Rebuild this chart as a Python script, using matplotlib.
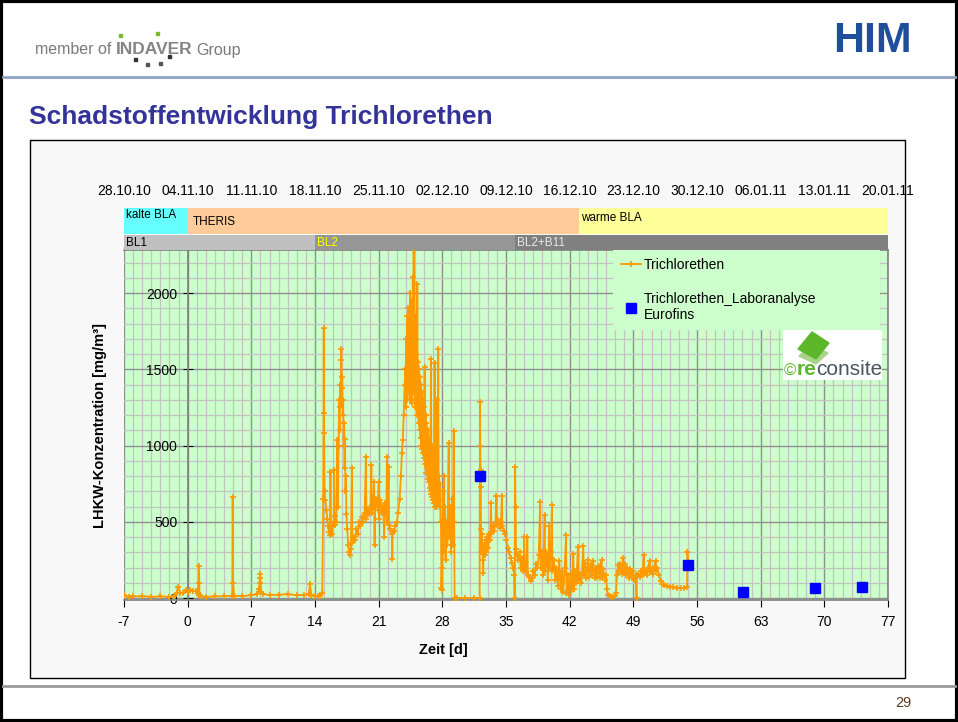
import matplotlib
matplotlib.use("Agg")
import matplotlib.pyplot as plt
from matplotlib.patches import Rectangle, Polygon
from matplotlib.lines import Line2D
from matplotlib.ticker import MultipleLocator
import numpy as np

plt.rcParams['font.family'] = ['Liberation Sans', 'DejaVu Sans']
plt.rcParams['axes.unicode_minus'] = False

# --- Werte (Tag, Konzentration mg/m3) ---
# Abschnitt vor THERIS / BL1
seg_bl1 = [(-7.0, 20), (-6.5, 8), (-6.0, 10), (-5.0, 12), (-4.0, 8), (-3.0, 10),
           (-2.0, 8), (-1.5, 12), (-1.2, 30), (-1.1, 74), (-0.8, 35), (-0.5, 30),
           (-0.2, 50), (0.0, 40), (0.3, 55), (0.6, 48), (0.9, 45), (1.1, 30),
           (1.2, 100), (1.25, 210), (1.3, 20), (1.5, 10), (2.0, 8), (3.0, 10),
           (4.0, 12), (4.9, 15), (4.95, 665), (5.0, 100), (5.1, 15), (6.0, 12),
           (7.0, 18), (7.6, 25), (7.8, 56), (7.9, 100), (7.95, 157), (8.0, 131),
           (8.1, 40), (8.3, 25), (9.0, 20), (10.0, 22), (11.0, 25), (12.0, 18),
           (12.8, 20), (13.3, 25), (13.45, 92), (13.6, 20), (14.0, 15), (14.3, 12)]

# BL2, erster Anstieg
seg_bl2 = [(14.5, 15), (14.8, 30), (14.9, 650), (14.96, 1770), (14.98, 1210),
           (15.0, 1080), (15.05, 700), (15.15, 640), (15.25, 580), (15.35, 520),
           (15.45, 470), (15.55, 430), (15.65, 415), (15.7, 828), (15.75, 440),
           (15.85, 420), (15.95, 470), (16.05, 500), (16.1, 840), (16.15, 480),
           (16.25, 540), (16.35, 500), (16.45, 1036), (16.5, 600), (16.6, 1000),
           (16.65, 1300), (16.7, 1100), (16.75, 1400), (16.8, 1250), (16.85, 1560),
           (16.9, 1630), (16.95, 1380), (17.0, 1450), (17.05, 1200), (17.1, 1300),
           (17.15, 1000), (17.2, 1150), (17.25, 850), (17.3, 1040), (17.35, 700),
           (17.4, 800), (17.45, 550), (17.55, 450), (17.65, 350), (17.75, 300),
           (17.85, 282), (17.95, 320), (18.05, 850), (18.1, 360), (18.25, 400),
           (18.4, 380), (18.55, 450), (18.7, 420), (18.85, 500), (19.0, 470),
           (19.15, 530), (19.3, 500), (19.45, 560), (19.6, 925), (19.65, 520),
           (19.8, 580), (19.95, 550), (20.1, 600), (20.2, 872), (20.25, 560),
           (20.4, 620), (20.5, 760), (20.55, 347), (20.6, 600), (20.75, 650),
           (20.9, 580), (21.0, 760), (21.05, 520), (21.2, 640), (21.35, 560),
           (21.5, 600), (21.6, 400), (21.7, 620), (21.85, 550), (21.9, 925),
           (21.95, 500), (22.1, 860), (22.15, 480), (22.3, 450), (22.45, 420),
           (22.5, 255), (22.55, 430), (22.7, 440), (22.85, 470), (23.0, 500),
           (23.15, 560), (23.3, 650), (23.45, 800), (23.55, 950), (23.65, 1036),
           (23.75, 1200), (23.85, 1400)]

# Hauptpeak
seg_peak = [(23.95, 1500), (24.0, 1250), (24.05, 1700), (24.1, 1300), (24.15, 1850),
            (24.2, 1350), (24.25, 1900), (24.3, 1400), (24.35, 1750), (24.4, 1300),
            (24.45, 2000), (24.5, 1350), (24.55, 1800), (24.6, 1300), (24.65, 1950),
            (24.7, 1280), (24.75, 2107), (24.8, 1350), (24.85, 2400), (24.9, 1400),
            (24.95, 1850), (25.0, 1250), (25.05, 1700), (25.1, 1300), (25.15, 1600),
            (25.2, 1200), (25.25, 2060), (25.3, 1250), (25.35, 1550), (25.4, 1150),
            (25.45, 1500), (25.5, 1100), (25.55, 1450), (25.6, 1050), (25.65, 1400),
            (25.7, 1000), (25.75, 1350), (25.8, 980), (25.85, 1300), (25.9, 950),
            (25.95, 1250), (26.0, 920), (26.05, 1514), (26.1, 880), (26.15, 1200),
            (26.2, 820), (26.25, 1150), (26.3, 850), (26.35, 1100), (26.4, 780),
            (26.45, 1100), (26.5, 760), (26.55, 1050), (26.6, 720), (26.65, 1000),
            (26.7, 700), (26.75, 1567), (26.8, 680), (26.85, 950), (26.9, 660),
            (26.95, 1000), (27.0, 640), (27.05, 920), (27.1, 620), (27.15, 1540),
            (27.2, 600), (27.25, 900), (27.3, 620), (27.35, 850), (27.4, 600),
            (27.45, 1300), (27.5, 620), (27.55, 1632), (27.6, 640), (27.65, 800),
            (27.7, 600), (27.75, 750), (27.8, 500), (27.85, 500), (27.9, 66),
            (27.95, 200), (28.0, 50), (28.05, 700), (28.1, 300), (28.2, 800),
            (28.25, 400), (28.3, 600), (28.35, 250), (28.45, 500), (28.55, 350),
            (28.7, 1016), (28.75, 400), (28.85, 600), (28.95, 300), (29.05, 650),
            (29.15, 350), (29.25, 1097), (29.3, 500), (29.35, 0), (29.6, 0),
            (30.5, 0), (31.5, 0), (32.1, 0)]

# BL2+B11
seg_b11 = [(32.14, 1287), (32.17, 1000), (32.2, 840), (32.22, 730), (32.25, 450),
           (32.3, 300), (32.35, 420), (32.45, 250), (32.5, 166), (32.55, 350),
           (32.65, 280), (32.75, 380), (32.85, 300), (32.95, 400), (33.05, 330),
           (33.15, 420), (33.25, 380), (33.35, 625), (33.4, 420), (33.55, 470),
           (33.7, 440), (33.85, 500), (33.95, 667), (34.0, 480), (34.15, 510),
           (34.3, 460), (34.45, 500), (34.55, 667), (34.6, 470), (34.75, 440),
           (34.9, 420), (35.05, 380), (35.2, 330), (35.35, 300), (35.5, 260),
           (35.65, 230), (35.8, 200), (35.9, 150), (35.95, 0), (36.0, 859),
           (36.05, 600), (36.1, 320), (36.2, 280), (36.35, 250), (36.5, 300),
           (36.6, 200), (36.75, 260), (36.9, 180), (37.0, 400), (37.05, 200),
           (37.2, 170), (37.35, 400), (37.4, 150), (37.55, 140), (37.7, 110),
           (37.85, 130), (38.0, 180), (38.15, 150), (38.3, 220), (38.45, 200),
           (38.6, 280), (38.75, 632), (38.8, 200), (38.95, 300), (39.1, 150),
           (39.25, 544), (39.3, 180), (39.45, 300), (39.6, 120), (39.75, 470),
           (39.8, 200), (39.95, 300), (40.05, 610), (40.1, 180), (40.25, 250),
           (40.4, 120), (40.55, 200), (40.7, 80), (40.85, 240), (41.0, 60),
           (41.15, 180), (41.3, 40), (41.45, 200), (41.6, 413), (41.65, 30),
           (41.8, 150), (41.95, 20), (42.1, 160), (42.25, 50), (42.4, 290),
           (42.45, 60), (42.6, 180), (42.75, 100), (42.9, 336), (42.95, 120),
           (43.1, 160), (43.3, 100), (43.5, 341), (43.55, 150), (43.7, 230),
           (43.85, 130), (44.0, 250), (44.15, 140), (44.3, 220), (44.45, 150),
           (44.6, 240), (44.75, 130), (44.9, 200), (45.05, 140), (45.2, 210),
           (45.35, 130), (45.5, 250), (45.55, 140), (45.7, 190), (45.85, 120),
           (46.0, 150), (46.1, 60), (46.2, 20), (46.4, 10), (46.7, 8), (47.0, 12),
           (47.1, 30), (47.2, 150), (47.3, 216), (47.4, 180), (47.55, 220),
           (47.7, 160), (47.85, 262), (47.9, 170), (48.05, 220), (48.2, 150),
           (48.35, 200), (48.5, 130), (48.65, 190), (48.8, 140), (48.95, 180),
           (49.1, 120), (49.25, 150), (49.35, 0), (49.4, 140), (49.55, 160),
           (49.7, 140), (49.85, 180), (50.0, 150), (50.15, 282), (50.2, 160),
           (50.35, 180), (50.5, 150), (50.65, 200), (50.8, 243), (50.85, 170),
           (51.0, 190), (51.15, 160), (51.3, 200), (51.45, 246), (51.5, 180),
           (51.65, 200), (51.8, 150), (52.0, 110), (52.2, 95), (52.4, 85),
           (52.7, 80), (53.0, 75), (53.4, 72), (53.8, 68), (54.2, 66), (54.6, 64),
           (54.9, 70), (54.95, 303), (55.0, 240)]

# Laboranalyse Eurofins
lab_days = [32.14, 55.0, 61.1, 69.0, 74.1]
lab_conc = [800, 216, 39, 66, 72]

# Zeitachse oben
date_ticks = list(range(-7, 78, 7))
date_labels = ["28.10.10", "04.11.10", "11.11.10", "18.11.10", "25.11.10",
               "02.12.10", "09.12.10", "16.12.10", "23.12.10", "30.12.10",
               "06.01.11", "13.01.11", "20.01.11"]

# Betriebsphasen (Balken oben)
phase_names = ["kalte BLA", "THERIS", "warme BLA"]
phase_start = [-7, 0, 43]
phase_end = [0, 43, 77]
phase_cols = ["#66ffff", "#ffcc99", "#ffff99"]

bl_names = ["BL1", "BL2", "BL2+B11"]
bl_start = [-7, 14, 36]
bl_end = [14, 36, 77]
bl_cols = ["#c0c0c0", "#969696", "#808080"]
bl_txt = ["black", "#ffff00", "#e8e8e8"]

tce = seg_bl1 + seg_bl2 + seg_peak + seg_b11
tce_days = np.array([p[0] for p in tce])
tce_conc = np.array([p[1] for p in tce])

W, H = 958, 722
def fx(px):
    return px / W
def fy(py):
    return 1 - py / H

fig = plt.figure(figsize=(9.58, 7.22), dpi=100)
fig.patch.set_facecolor("white")

# Folienrahmen und Kopf
fig.patches.append(Rectangle((0.0015, 0.002), 0.997, 0.996, transform=fig.transFigure,
                             fill=False, edgecolor="black", lw=3, zorder=-10))
fig.add_artist(Line2D([fx(3), fx(955)], [fy(77), fy(77)], color="#8ea3c2", lw=2))
fig.add_artist(Line2D([fx(3), fx(955)], [fy(686), fy(686)], color="#9a9a9a", lw=2))

t1 = fig.text(fx(35), fy(50), "member of ", fontsize=11.5, color="#7a7a7a", va="center")
t2 = fig.text(0, 0, "INDAVER", fontsize=12.5, weight="bold", color="#858585", va="center")
fig.canvas.draw()
bb = t1.get_window_extent()
t2.set_position((bb.x1 / W, fy(50)))
fig.canvas.draw()
bb2 = t2.get_window_extent()
fig.text(bb2.x1 / W + 0.004, fy(50), "Group", fontsize=11.5, color="#7a7a7a", va="center")
for (px, py, c) in [(119, 37, "#7ab929"), (156, 35, "#7ab929"),
                    (134, 61, "#333333"), (146, 66, "#555555"),
                    (159, 65, "#555555"), (168, 58, "#333333")]:
    fig.patches.append(Rectangle((fx(px), fy(py)), 3 / W, 3 / H, transform=fig.transFigure,
                                 color=c, zorder=5))

fig.text(fx(872), fy(41), "HIM", fontsize=31, weight="bold", color="#1f4e9c",
         ha="center", va="center")

fig.text(fx(29), fy(117), "Schadstoffentwicklung Trichlorethen", fontsize=19,
         weight="bold", color="#333399", va="center")
fig.text(fx(912), fy(703), "29", fontsize=10.5, color="#5c3a1e", ha="right", va="center")

# Diagrammrahmen
fig.patches.append(Rectangle((fx(30), fy(678)), fx(905) - fx(30), fy(140) - fy(678),
                             transform=fig.transFigure, facecolor="#f8f8f8",
                             edgecolor="black", lw=1, zorder=-5))

ax = fig.add_axes([fx(124), fy(600), fx(888) - fx(124), fy(250) - fy(600)])
ax.set_facecolor("#ccffcc")
ax.set_xlim(-7, 77)
ax.set_ylim(-13, 2282)

ax.xaxis.set_major_locator(MultipleLocator(7))
ax.xaxis.set_minor_locator(MultipleLocator(1))
ax.yaxis.set_major_locator(MultipleLocator(500))
ax.yaxis.set_minor_locator(MultipleLocator(100))
ax.grid(which="minor", color="#c4c4c4", lw=0.9)
ax.grid(which="major", color="#909090", lw=1.0)
ax.set_axisbelow(True)

ax.spines["left"].set_position(("data", 0))
for s in ax.spines.values():
    s.set_color("#808080")
    s.set_linewidth(1.2)
ax.tick_params(which="minor", length=0)
ax.tick_params(axis="y", which="major", direction="inout", length=7, pad=4,
               labelsize=10, colors="black")
ax.tick_params(axis="x", which="major", direction="out", length=5, pad=6,
               labelsize=10, colors="black")
ax.set_yticks([0, 500, 1000, 1500, 2000])
ax.set_xticks(date_ticks)

ax.plot(tce_days, tce_conc, color="#ff9900", lw=1.3, marker="+", ms=5, mew=1.2,
        label="Trichlorethen", zorder=3)
ax.plot(lab_days, lab_conc, ls="none", marker="s", ms=7.5, color="#0000ff",
        label="Trichlorethen_Laboranalyse\nEurofins", zorder=4)

leg = ax.legend(loc="upper left",
                bbox_to_anchor=(fx(613), fy(325), fx(880) - fx(613), fy(250) - fy(325)),
                bbox_transform=fig.transFigure, mode="expand", borderaxespad=0,
                frameon=True, facecolor="#ccffcc", edgecolor="none", framealpha=1,
                fancybox=False, fontsize=10, labelspacing=1.4, handlelength=1.4,
                handletextpad=0.25, borderpad=0.6)
leg.set_zorder(6)

fig.text(fx(100), fy(425), "LHKW-Konzentration [mg/m³]", rotation=90, fontsize=10.5,
         weight="bold", ha="center", va="center")
fig.text(fx(443), fy(650), "Zeit [d]", fontsize=10.5, weight="bold",
         ha="center", va="center")

# Phasenbalken
bax = fig.add_axes([fx(124), fy(250), fx(888) - fx(124), fy(208) - fy(250)])
bax.set_xlim(-7, 77)
bax.set_ylim(0, 42)
for n, a, b, c in zip(phase_names, phase_start, phase_end, phase_cols):
    bax.broken_barh([(a, b - a)], (16, 26), facecolors=c)
for n, a, b, c in zip(bl_names, bl_start, bl_end, bl_cols):
    bax.broken_barh([(a, b - a)], (0, 15), facecolors=c)
bax.text(-6.8, 35, phase_names[0], fontsize=8.5, va="center")
bax.text(0.6, 28, phase_names[1], fontsize=8.5, va="center")
bax.text(43.2, 32, phase_names[2], fontsize=8.5, va="center")
for n, a, c in zip(bl_names, bl_start, bl_txt):
    bax.text(a + 0.2, 7.5, n, fontsize=8.5, color=c, va="center")
for s in bax.spines.values():
    s.set_visible(False)
bax.set_yticks([])
bax.xaxis.tick_top()
bax.set_xticks(date_ticks)
bax.set_xticklabels(date_labels, fontsize=10)
bax.tick_params(axis="x", length=0, pad=7)
bax.patch.set_alpha(0)

# reconsite Logo
lax = fig.add_axes([fx(783), fy(380), fx(882) - fx(783), fy(330) - fy(380)])
lax.set_xlim(0, 99)
lax.set_ylim(50, 0)
lax.set_facecolor("white")
for s in lax.spines.values():
    s.set_visible(False)
lax.set_xticks([])
lax.set_yticks([])
lax.add_patch(Polygon([[16, 26], [33, 34], [45, 23], [28, 15]], closed=True,
                      color="#a8d48a"))
lax.add_patch(Polygon([[15, 19], [33, 29], [46, 13], [29, 2]], closed=True,
                      color="#5cb82a"))
r1 = lax.text(1, 46, "©", fontsize=12, color="#5cb82a", va="baseline")
r2 = lax.annotate("re", xy=(1, 0), xycoords=r1, fontsize=15, color="#5cb82a",
                  weight="bold", va="bottom")
lax.annotate("consite", xy=(1, 0), xycoords=r2, fontsize=15, color="#4a5560",
             va="bottom")

fig.savefig("out.png", dpi=100)
